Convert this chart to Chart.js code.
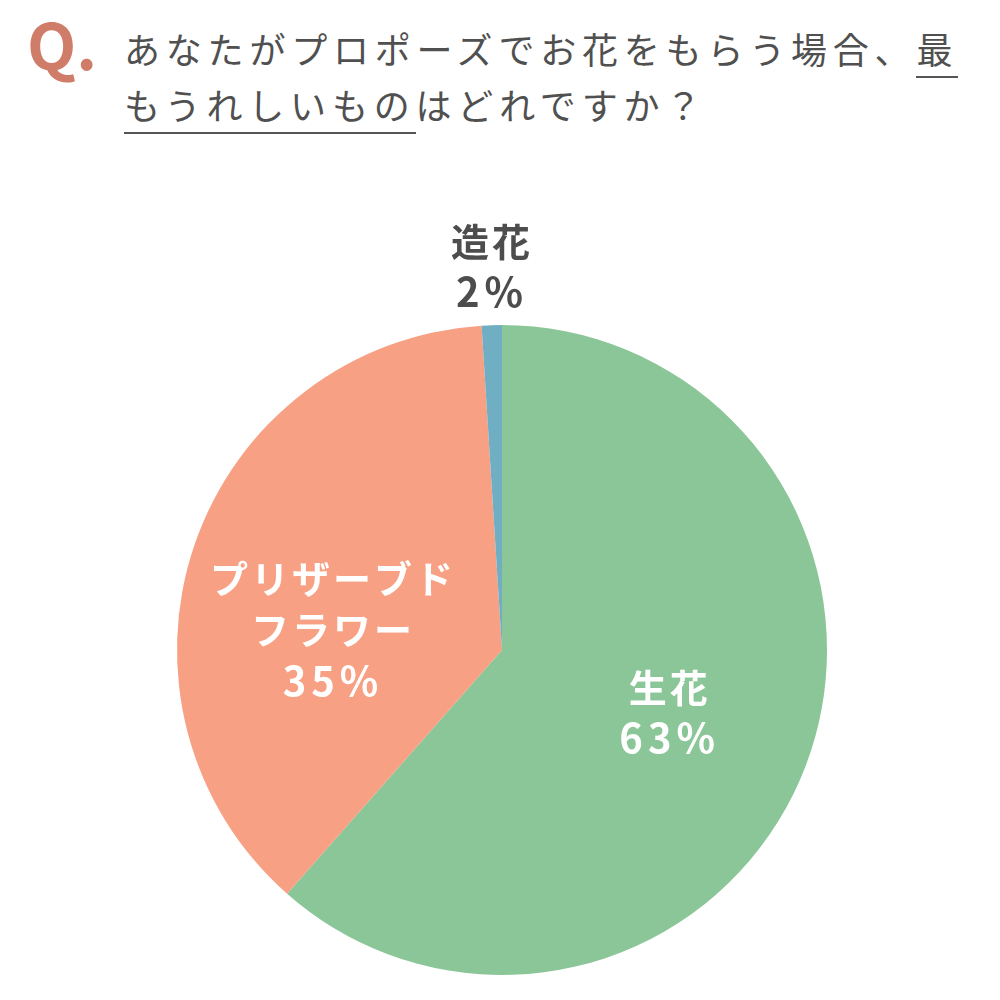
<!DOCTYPE html>
<html lang="ja">
<head>
<meta charset="utf-8">
<script src="https://cdn.jsdelivr.net/npm/chart.js@4"></script>
<style>
  html, body { margin: 0; padding: 0; background: #fff; }
  body { width: 1000px; height: 1000px; position: relative; overflow: hidden; font-family: "Noto Sans CJK JP", sans-serif; }
  .q { position: absolute; left: 27px; top: 10px; font-size: 64px; font-weight: 700; color: #cf7d69; line-height: 1; }
  .title { position: absolute; left: 124px; top: 20px; font-size: 36px; color: #505050; letter-spacing: 5.8px; line-height: 56px; font-weight: 400; }
  .title u { text-decoration: none; border-bottom: 2px solid #555; padding-bottom: 2px; }
  #wrap { position: absolute; left: 0; top: 0; width: 1000px; height: 1000px; }
</style>
</head>
<body>
<div class="q">Q.</div>
<div class="title">あなたがプロポーズでお花をもらう場合、<u>最</u><br><u>もうれしいもの</u>はどれですか？</div>
<div id="wrap"><canvas id="piechart"></canvas></div>
<script>
// ---- data ----
const categories = ['生花', 'プリザーブドフラワー', '造花'];
const labelLines = [['生花'], ['プリザーブド', 'フラワー'], ['造花']];
const percentLabels = ['63%', '35%', '2%'];
// slice sizes as drawn in the picture
const shares = [61.5, 37.5, 1.0];
const colors = ['#8bc698', '#f7a083', '#70aec4'];
const labelColors = ['#ffffff', '#ffffff', '#4d4d4d'];

// where to put each label: fraction of radius, angle shift (deg)
const labelRadius = [0.545, 0.53, 1.18];
const labelShift = [0, -12, 0];

const sliceLabels = {
    id: 'sliceLabels',
    afterDatasetsDraw(chart) {
        const ctx = chart.ctx;
        const arcs = chart.getDatasetMeta(0).data;
        ctx.save();
        ctx.textAlign = 'center';
        ctx.textBaseline = 'middle';
        arcs.forEach((arc, i) => {
            const p = arc.getProps(['x', 'y', 'startAngle', 'endAngle', 'outerRadius'], true);
            const mid = (p.startAngle + p.endAngle) / 2 + labelShift[i] * Math.PI / 180;
            const r = p.outerRadius * labelRadius[i];
            const cx = p.x + Math.cos(mid) * r;
            const cy = p.y + Math.sin(mid) * r;
            const lines = labelLines[i].concat([percentLabels[i]]);
            const lh = 51;
            const top = cy - (lines.length - 1) * lh / 2;
            ctx.fillStyle = labelColors[i];
            lines.forEach((t, k) => {
                const isPct = k === lines.length - 1;
                ctx.font = isPct ? 'bold 40px "Noto Sans CJK JP", sans-serif' : 'bold 38px "Noto Sans CJK JP", sans-serif';
                ctx.letterSpacing = isPct ? '5px' : '3px';
                ctx.fillText(t, cx + 2, top + k * lh);
            });
        });
        ctx.restore();
    }
};

new Chart(document.getElementById('piechart'), {
    type: 'pie',
    data: {
        labels: categories,
        datasets: [{
            data: shares,
            backgroundColor: colors,
            borderWidth: 0
        }]
    },
    options: {
        responsive: true,
        maintainAspectRatio: false,
        animation: false,
        layout: { padding: { left: 177, right: 173, top: 325, bottom: 25 } },
        plugins: {
            legend: { display: false },
            tooltip: { enabled: false }
        }
    },
    plugins: [sliceLabels]
});
</script>
</body>
</html>
